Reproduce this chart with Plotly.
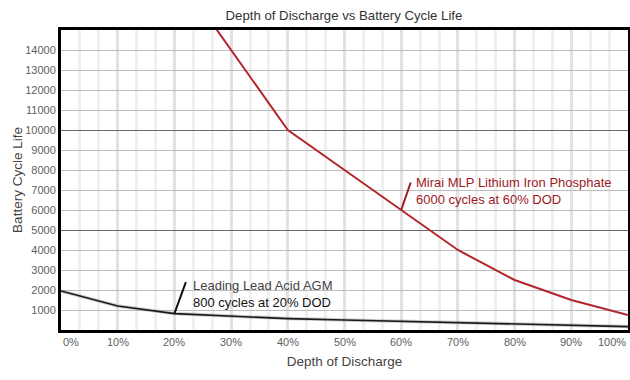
import plotly.graph_objects as go

# ---- data ----
dod_lfp = [20, 30, 40, 50, 60, 70, 80, 90, 100]
cycles_lfp = [18000, 14000, 10000, 8000, 6000, 4000, 2500, 1500, 750]

dod_agm = [0, 10, 20, 30, 40, 50, 60, 70, 80, 90, 100]
cycles_agm = [1950, 1200, 820, 680, 570, 500, 430, 370, 290, 230, 170]

x_ticks = [0, 10, 20, 30, 40, 50, 60, 70, 80, 90, 100]
x_tick_labels = ["0%", "10%", "20%", "30%", "40%", "50%", "60%", "70%", "80%", "90%", "100%"]
y_ticks = [1000, 2000, 3000, 4000, 5000, 6000, 7000, 8000, 9000, 10000,
           11000, 12000, 13000, 14000]
y_tick_labels = [str(v) for v in y_ticks]

title = "Depth of Discharge vs Battery Cycle Life"
x_title = "Depth of Discharge"
y_title = "Battery Cycle Life"
lfp_label = ["Mirai MLP Lithium Iron Phosphate", "6000 cycles at 60% DOD"]
agm_label = ["Leading Lead Acid AGM", "800 cycles at 20% DOD"]
lfp_point = (60, 6000)
agm_point = (20, 820)

FONT = "Liberation Sans"
RED = "#b3252b"
DARKRED = "#9e1a1f"

fig = go.Figure()

# AGM shadow + line
fig.add_trace(go.Scatter(x=dod_agm, y=cycles_agm, mode="lines",
                         line=dict(color="rgba(120,120,120,0.35)", width=3.5),
                         hoverinfo="skip", showlegend=False))
fig.add_trace(go.Scatter(x=dod_agm, y=cycles_agm, mode="lines",
                         line=dict(color="#1a1a1a", width=1.6),
                         showlegend=False))
# LFP line
fig.add_trace(go.Scatter(x=dod_lfp, y=cycles_lfp, mode="lines",
                         line=dict(color=RED, width=2),
                         showlegend=False))

# dark reference lines at 5000 / 10000 via overlay axis
fig.add_trace(go.Scatter(x=[None], y=[None], yaxis="y2", showlegend=False))

annotations = []
# x tick labels
for v, t in zip(x_ticks, x_tick_labels):
    anchor = "center"
    if v == x_ticks[0]:
        anchor = "left"
    elif v == x_ticks[-1]:
        anchor = "right"
    annotations.append(dict(x=v, y=0, xref="x", yref="y", text=t, showarrow=False,
                            xanchor=anchor, yanchor="top", yshift=-4,
                            font=dict(family=FONT, size=11, color="#5e5e5e")))

# pointer lines
annotations.append(dict(x=lfp_point[0], y=lfp_point[1], xref="x", yref="y", text="",
                        showarrow=True, arrowhead=0, arrowwidth=2, arrowcolor=DARKRED,
                        ax=10, ay=-29))
annotations.append(dict(x=agm_point[0], y=agm_point[1], xref="x", yref="y", text="",
                        showarrow=True, arrowhead=0, arrowwidth=2, arrowcolor="#111111",
                        ax=12, ay=-33))
# labels
annotations.append(dict(x=lfp_point[0], y=lfp_point[1], xref="x", yref="y",
                        text=lfp_label[0] + "<br>" + lfp_label[1], showarrow=False,
                        xanchor="left", yanchor="bottom", align="left",
                        xshift=13, yshift=1,
                        font=dict(family=FONT, size=13, color=DARKRED)))
annotations.append(dict(x=agm_point[0], y=agm_point[1], xref="x", yref="y",
                        text="<span style='color:#444'>" + agm_label[0] + "</span><br>" + agm_label[1],
                        showarrow=False, xanchor="left", yanchor="bottom", align="left",
                        xshift=17, yshift=2,
                        font=dict(family=FONT, size=13, color="#111111")))

fig.update_layout(
    width=630, height=380,
    margin=dict(l=61, r=2, t=30, b=50),
    paper_bgcolor="white", plot_bgcolor="white",
    title=dict(text=title, x=0.546, xanchor="center", xref="container",
               y=1 - 15 / 380, yref="container", yanchor="middle",
               font=dict(family=FONT, size=13.2, color="#333333")),
    xaxis=dict(range=[0, 100], tickvals=x_ticks, showticklabels=False, ticks="",
               automargin=False,
               showgrid=True, gridcolor="#e2e2e2", gridwidth=2.5,
               minor=dict(dtick=10 / 3, tick0=0, showgrid=True, gridcolor="#f0f0f0", gridwidth=2.5),
               showline=True, linecolor="black", linewidth=3, mirror=True,
               zeroline=False,
               title=dict(text=x_title, standoff=25,
                          font=dict(family=FONT, size=13.5, color="#444444"))),
    yaxis=dict(range=[0, 15000], tickvals=y_ticks, ticktext=y_tick_labels, ticks="",
               automargin=False,
               showgrid=True, gridcolor="#bdbdbd", gridwidth=1,
               showline=True, linecolor="black", linewidth=3, mirror=True,
               zeroline=False,
               tickfont=dict(family=FONT, size=11, color="#5e5e5e"),
               title=dict(text=y_title, standoff=0,
                          font=dict(family=FONT, size=13.5, color="#444444"))),
    yaxis2=dict(range=[0, 15000], overlaying="y", tickvals=[5000, 10000],
                showticklabels=False, ticks="", showgrid=True, gridcolor="#6a6a6a",
                gridwidth=1, zeroline=False, showline=False, automargin=False),
    annotations=annotations,
)

fig.write_html("out.html",
               config={"displayModeBar": False},
               post_script="document.body.style.margin='0';document.body.style.overflow='hidden';")
